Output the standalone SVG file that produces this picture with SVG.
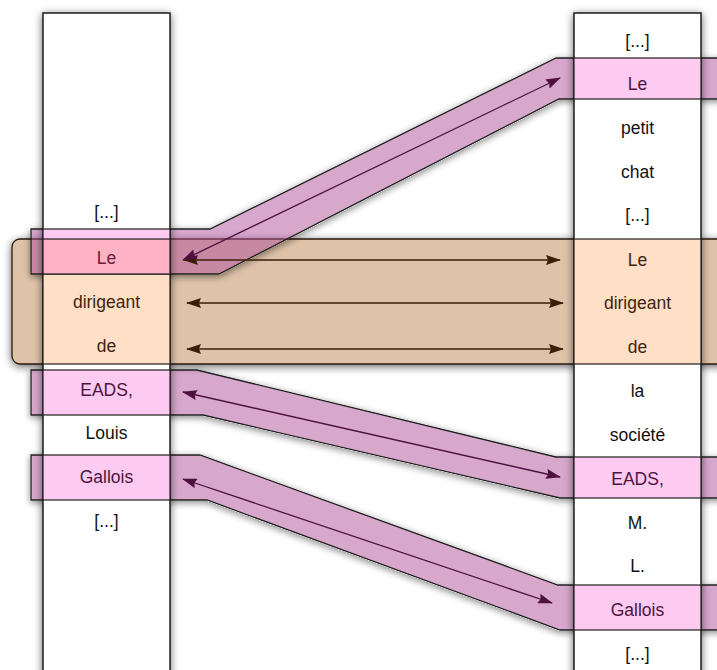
<svg xmlns="http://www.w3.org/2000/svg" width="717" height="670" viewBox="0 0 717 670">
  <defs>
    <filter id="shadow" x="-20%" y="-20%" width="140%" height="140%">
      <feGaussianBlur in="SourceAlpha" stdDeviation="4"/>
      <feOffset dx="0" dy="2" result="b"/>
      <feComponentTransfer><feFuncA type="linear" slope="0.6"/></feComponentTransfer>
      <feMerge><feMergeNode/><feMergeNode in="SourceGraphic"/></feMerge>
    </filter>
    <filter id="shadow-out" x="-20%" y="-20%" width="140%" height="140%">
      <feComponentTransfer in="SourceAlpha" result="solid"><feFuncA type="linear" slope="10"/></feComponentTransfer>
      <feGaussianBlur in="solid" stdDeviation="3.5"/>
      <feOffset dx="0" dy="2"/>
      <feComponentTransfer><feFuncA type="linear" slope="0.45"/></feComponentTransfer>
      <feComposite in2="solid" operator="out" result="sh"/>
      <feMerge><feMergeNode in="sh"/><feMergeNode in="SourceGraphic"/></feMerge>
    </filter>
    <marker id="ah-brown" viewBox="0 0 15 10" refX="14" refY="5" markerWidth="15" markerHeight="10" markerUnits="userSpaceOnUse" orient="auto-start-reverse">
      <path d="M0,0 L15,5 L0,10 L2,5 z" fill="#3b1e08"/>
    </marker>
    <marker id="ah-mauve" viewBox="0 0 15 10" refX="14" refY="5" markerWidth="15" markerHeight="10" markerUnits="userSpaceOnUse" orient="auto-start-reverse">
      <path d="M0,0 L15,5 L0,10 L2,5 z" fill="#4d1040"/>
    </marker>
  </defs>
  <style>
    .col { fill: #ffffff; stroke: #1e1e1e; stroke-width: 1.5; }
    .cell { stroke: #1e1e1e; stroke-width: 1.2; }
    .pink { fill: #fdcbf1; }
    .peach { fill: #ffdfc5; }
    .salmon { fill: #ffb1c6; }
    .band { fill: rgba(175,77,153,0.5); stroke: #1e1e1e; stroke-width: 1.3; stroke-linejoin: miter; }
    .box { fill: #dec3a9; stroke: #2a1a0a; stroke-width: 1.3; }
    text { font-family: "Liberation Sans", Arial, sans-serif; font-size: 17.5px; text-anchor: middle; }
    .t-w { fill: #111111; }
    .t-p { fill: #4e1440; }
    .t-o { fill: #3e2410; }
    .t-s { fill: #6a1c3c; }
    .arr-b { stroke: #3b1e08; stroke-width: 1.3; fill: none; marker-start: url(#ah-brown); marker-end: url(#ah-brown); }
    .arr-m { stroke: #4d1040; stroke-width: 1.3; fill: none; marker-start: url(#ah-mauve); marker-end: url(#ah-mauve); }
  </style>

  <g id="group-dirigeant" filter="url(#shadow)">
    <rect class="box" x="12" y="239" width="740" height="125" rx="8"/>
  </g>

  <g id="band-le" filter="url(#shadow-out)">
    <polygon class="band" points="31,229 210,229 556,58 730,58 730,99 559,99 219,274 31,274"/>
  </g>
  <g id="band-eads" filter="url(#shadow-out)">
    <polygon class="band" points="31,370 197,370 556,457 730,457 730,498 560,498 203,415 31,415"/>
  </g>
  <g id="band-gallois" filter="url(#shadow-out)">
    <polygon class="band" points="31,455 200,455 558,585 730,585 730,630 560,630 207,500 31,500"/>
  </g>

  <g id="col-left">
    <rect class="col" x="43" y="13" width="127" height="670" filter="url(#shadow)"/>
    <rect class="cell peach" x="43" y="239" width="127" height="125"/>
    <rect class="cell pink" x="43" y="229" width="127" height="45"/>
    <rect class="cell salmon" x="43" y="239" width="127" height="35"/>
    <rect class="cell pink" x="43" y="370" width="127" height="45"/>
    <rect class="cell pink" x="43" y="455" width="127" height="45"/>
    <text class="t-w" x="106.5" y="218">[...]</text>
    <text class="t-s" x="106.5" y="264">Le</text>
    <text class="t-o" x="106.5" y="308">dirigeant</text>
    <text class="t-o" x="106.5" y="352">de</text>
    <text class="t-p" x="106.5" y="396">EADS,</text>
    <text class="t-w" x="106.5" y="439">Louis</text>
    <text class="t-p" x="106.5" y="483">Gallois</text>
    <text class="t-w" x="106.5" y="527">[...]</text>
  </g>

  <g id="col-right">
    <rect class="col" x="574" y="13" width="127" height="670" filter="url(#shadow)"/>
    <rect class="cell pink" x="574" y="58" width="127" height="41"/>
    <rect class="cell peach" x="574" y="239" width="127" height="125"/>
    <rect class="cell pink" x="574" y="457" width="127" height="41"/>
    <rect class="cell pink" x="574" y="585" width="127" height="45"/>
    <text class="t-w" x="637.5" y="47">[...]</text>
    <text class="t-p" x="637.5" y="90">Le</text>
    <text class="t-w" x="637.5" y="134">petit</text>
    <text class="t-w" x="637.5" y="178">chat</text>
    <text class="t-w" x="637.5" y="221">[...]</text>
    <text class="t-o" x="637.5" y="266">Le</text>
    <text class="t-o" x="637.5" y="309">dirigeant</text>
    <text class="t-o" x="637.5" y="353">de</text>
    <text class="t-w" x="637.5" y="397">la</text>
    <text class="t-w" x="637.5" y="441">société</text>
    <text class="t-p" x="637.5" y="485">EADS,</text>
    <text class="t-w" x="637.5" y="529">M.</text>
    <text class="t-w" x="637.5" y="572">L.</text>
    <text class="t-p" x="637.5" y="616">Gallois</text>
    <text class="t-w" x="637.5" y="660">[...]</text>
  </g>

  <g id="connectors">
    <line class="arr-b" x1="184" y1="260" x2="560" y2="260"/>
    <line class="arr-b" x1="187" y1="303" x2="563" y2="303"/>
    <line class="arr-b" x1="187" y1="349" x2="563" y2="349"/>
    <line class="arr-m" x1="183" y1="260" x2="560" y2="78"/>
    <line class="arr-m" x1="183" y1="392" x2="560" y2="477"/>
    <line class="arr-m" x1="183" y1="479" x2="552" y2="603"/>
  </g>
</svg>
